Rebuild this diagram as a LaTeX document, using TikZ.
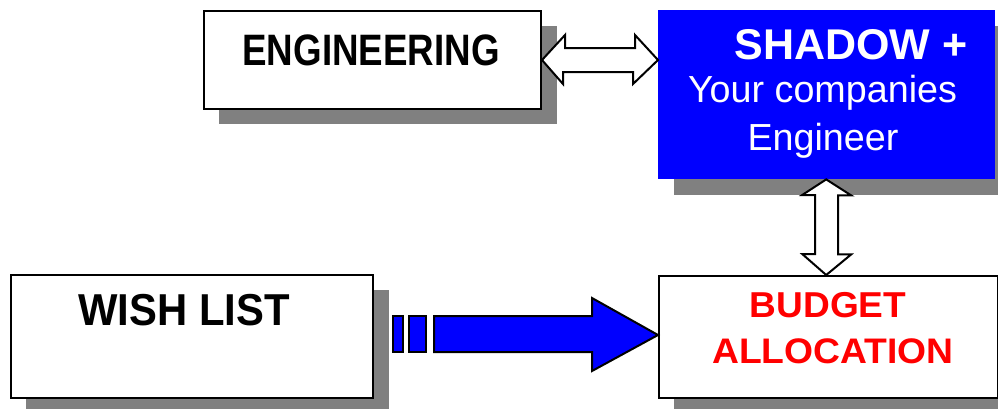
\documentclass[tikz,border=0pt]{standalone}
\usepackage{fontspec}
\setmainfont{Liberation Sans}
\usetikzlibrary{calc}
\definecolor{boxblue}{RGB}{0,0,255}
\definecolor{shadowgray}{RGB}{128,128,128}
\definecolor{textred}{RGB}{255,0,0}
\tikzset{
  panel/.style={draw=black, line width=2pt, fill=white, anchor=north west, inner sep=0pt},
  bluepanel/.style={fill=boxblue, anchor=north west, inner sep=0pt},
  dropshadow/.style={fill=shadowgray},
  hollowarrow/.style={draw=black, line width=2pt, fill=white, line join=miter},
  bluearrow/.style={draw=black, line width=2pt, fill=boxblue, line join=miter},
  label/.style={anchor=base, inner sep=0pt}
}
\newcommand{\fsz}[1]{\fontsize{#1}{#1}\selectfont}
\begin{document}
\begin{tikzpicture}[x=1pt,y=-1pt]
\useasboundingbox (0,0) rectangle (998,408);

% drop shadows behind the boxes
\fill[dropshadow] (219,26) rectangle (557,124);
\fill[dropshadow] (674,26) rectangle (1012,195);
\fill[dropshadow] (26,290) rectangle (389,414);
\fill[dropshadow] (674,291) rectangle (1014,414);

% boxes
\node[panel, minimum width=337pt, minimum height=98pt] (eng) at (203,10) {};
\node[bluepanel, minimum width=337pt, minimum height=169pt] (shadow) at (658,10) {};
\node[panel, minimum width=362pt, minimum height=123pt] (wish) at (10,274) {};
\node[panel, minimum width=339pt, minimum height=122pt] (budget) at (658,275) {};

% box texts
\node[label, font=\fsz{44}\bfseries] (tEng) at (371,65) {\scalebox{0.835}[1]{ENGINEERING}};
\node[label, font=\fsz{43}\bfseries, text=white] (tShadow) at (851,59) {SHADOW +};
\node[label, font=\fsz{37.7}, text=white] (tYour) at (822.5,102) {Your companies};
\node[label, font=\fsz{37.7}, text=white] (tEngr) at (823,150) {Engineer};
\node[label, font=\fsz{44.7}\bfseries] (tWish) at (184,325) {\scalebox{0.935}[1]{WISH LIST}};
\node[label, font=\fsz{36}\bfseries, text=textred] (tBudget) at (828,317) {\scalebox{1.03}[1]{BUDGET}};
\node[label, font=\fsz{35.5}\bfseries, text=textred] (tAlloc) at (833,363) {\scalebox{1.05}[1]{ALLOCATION}};

% two-headed arrow between ENGINEERING and the blue box
\coordinate (hl) at (eng.east);
\coordinate (hr) at (shadow.west |- eng.east);
\draw[hollowarrow] (hl) -- ++(23,-25) -- ++(0,13) -- ++(70,0) -- ++(0,-13)
  -- (hr) -- ++(-25,24) -- ++(0,-12) -- ++(-70,0) -- ++(0,12) -- cycle;

% two-headed arrow between the blue box and BUDGET ALLOCATION
\coordinate (vt) at ($(shadow.south)+(-0.5,0)$);
\coordinate (vb) at (vt |- budget.north);
\draw[hollowarrow] (vt) -- ++(25,16) -- ++(-13,0) -- ++(0,59) -- ++(13,0)
  -- (vb) -- ++(-24,-21) -- ++(13,0) -- ++(0,-59) -- ++(-13,0) -- cycle;

% block arrow from WISH LIST to BUDGET ALLOCATION
\coordinate (bt) at ($(budget.west)+(0,-2)$);
\draw[bluearrow] (393,316) rectangle (403,352);
\draw[bluearrow] (409,316) rectangle (426,352);
\draw[bluearrow] (434,316) -- (592,316) -- (592,298) -- (bt) -- (592,371)
  -- (592,352) -- (434,352) -- cycle;
\end{tikzpicture}
\end{document}
